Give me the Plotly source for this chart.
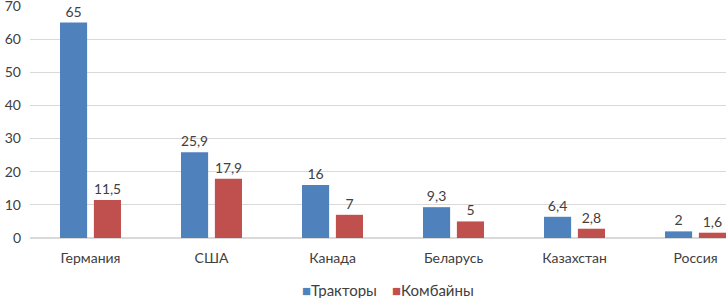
import plotly.graph_objects as go

categories = ["Германия", "США", "Канада", "Беларусь", "Казахстан", "Россия"]
tractors = [65, 25.9, 16, 9.3, 6.4, 2]
combines = [11.5, 17.9, 7, 5, 2.8, 1.6]
y_ticks = [0, 10, 20, 30, 40, 50, 60, 70]
series_names = ["Тракторы", "Комбайны"]
series_colors = ["#4F81BD", "#C0504D"]

def fmt(v):
    return ("%g" % v).replace(".", ",")

FONT = "Lato, Carlito, 'Open Sans', sans-serif"

fig = go.Figure()
for name, vals, col in zip(series_names, [tractors, combines], series_colors):
    fig.add_trace(go.Bar(
        name=name, x=categories, y=vals, showlegend=False,
        marker=dict(color=col, line=dict(width=0)),
        text=[fmt(v) for v in vals], textposition="outside",
        textfont=dict(color="#404040", size=14, family=FONT),
        cliponaxis=False,
    ))

# legend drawn as text entries with coloured square glyphs
legend_x = [0.3879, 0.5172]
for name, col, lx in zip(series_names, series_colors, legend_x):
    fig.add_annotation(
        xref="paper", yref="paper", x=lx, y=-0.225, xanchor="left", yanchor="middle",
        text=f"<span style='color:{col}'>■</span>{name}",
        showarrow=False, font=dict(size=15, color="#404040", family=FONT),
    )

fig.update_layout(
    width=726, height=298,
    margin=dict(l=30, r=0, t=6, b=60, autoexpand=False),
    paper_bgcolor="white", plot_bgcolor="white",
    barmode="group", bargap=0.44, bargroupgap=0.2,
    font=dict(family=FONT, size=14, color="#595959"),
    showlegend=False,
)
fig.update_xaxes(
    range=[-0.5, 5.252], showgrid=False, showline=True, linecolor="#D9D9D9", linewidth=1,
    ticks="", tickfont=dict(size=14, color="#404040"), automargin=False,
    ticklabelstandoff=7, ticklabeloverflow="allow",
)
fig.update_yaxes(
    range=[0, 70], tickvals=y_ticks, showgrid=True, gridcolor="#D9D9D9", gridwidth=1,
    zeroline=True, zerolinecolor="#D9D9D9", showline=False, ticks="",
    tickfont=dict(size=14, color="#404040"), ticklabelstandoff=8, automargin=False,
    ticklabeloverflow="allow",
)
fig.write_html("out.html", config={"displayModeBar": False},
               post_script="document.body.style.margin='0';")
